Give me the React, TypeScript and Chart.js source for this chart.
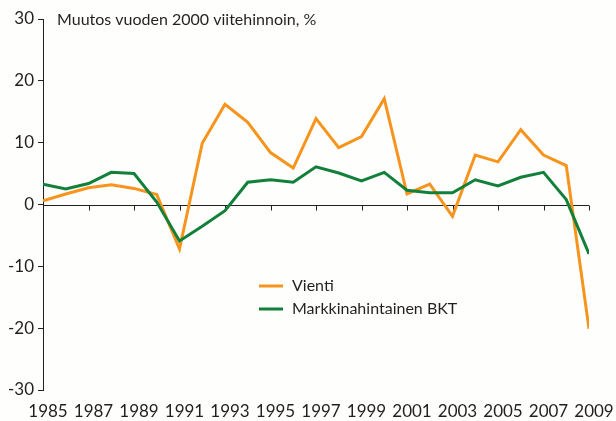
import React, { useEffect, useRef } from "react";
import { Chart, registerables } from "chart.js";

Chart.register(...registerables);

const years = [1985, 1986, 1987, 1988, 1989, 1990, 1991, 1992, 1993, 1994, 1995, 1996, 1997, 1998, 1999, 2000, 2001, 2002, 2003, 2004, 2005, 2006, 2007, 2008, 2009];
const vienti = [0.6, 1.7, 2.7, 3.2, 2.6, 1.6, -7.2, 9.9, 16.2, 13.3, 8.4, 5.9, 13.9, 9.2, 11.0, 17.1, 1.7, 3.3, -1.9, 8.0, 6.9, 12.1, 8.0, 6.3, -20.1];
const bkt = [3.3, 2.5, 3.4, 5.2, 5.0, 0.4, -5.9, -3.5, -1.0, 3.6, 4.0, 3.6, 6.1, 5.1, 3.8, 5.2, 2.3, 1.9, 1.9, 4.0, 3.0, 4.4, 5.2, 0.8, -8.0];
const seriesNames = ["Vienti", "Markkinahintainen BKT"];
const titleText = "Muutos vuoden 2000 viitehinnoin, %";

const ORANGE = "#f7941d";
const GREEN = "#12803a";
const INK = "#231f20";
const FONT = "Lato";

const overlay = {
  id: "overlay",
  beforeDraw(chart: any) {
    const { ctx } = chart;
    ctx.save();
    ctx.fillStyle = "#fefefc";
    ctx.fillRect(0, 0, chart.width, chart.height);
    ctx.restore();
  },
  beforeDatasetsDraw(chart: any) {
    const { ctx, chartArea, scales } = chart;
    const y0 = Math.round(scales.y.getPixelForValue(0)) + 0.5;
    ctx.save();
    ctx.strokeStyle = INK;
    ctx.lineWidth = 1;
    ctx.beginPath();
    ctx.moveTo(chartArea.left, y0);
    ctx.lineTo(chartArea.right, y0);
    for (const t of scales.x.ticks) {
      const x = Math.round(scales.x.getPixelForValue(t.value)) + 0.5;
      ctx.moveTo(x, y0);
      ctx.lineTo(x, y0 + 5);
    }
    ctx.stroke();
    ctx.restore();
  },
  afterDraw(chart: any) {
    const { ctx } = chart;
    ctx.save();
    ctx.fillStyle = INK;
    ctx.font = `16px ${FONT}`;
    ctx.textBaseline = "middle";
    ctx.textAlign = "left";
    ctx.fillText(titleText, 57, 20);
    const items = [
      { name: seriesNames[0], color: ORANGE, y: 286 },
      { name: seriesNames[1], color: GREEN, y: 309 },
    ];
    for (const it of items) {
      ctx.strokeStyle = it.color;
      ctx.lineWidth = 3;
      ctx.beginPath();
      ctx.moveTo(259, it.y);
      ctx.lineTo(283, it.y);
      ctx.stroke();
      ctx.fillStyle = INK;
      ctx.fillText(it.name, 292, it.y);
    }
    ctx.restore();
  },
};

export default function App() {
  const ref = useRef<HTMLCanvasElement>(null);
  useEffect(() => {
    document.body.style.margin = "0";
    const chart = new Chart(ref.current!, {
      type: "line",
      data: {
        datasets: [
          {
            label: seriesNames[0],
            data: years.map((x, i) => ({ x, y: vienti[i] })),
            borderColor: ORANGE,
            borderWidth: 3,
            pointRadius: 0,
            tension: 0,
            order: 1,
          },
          {
            label: seriesNames[1],
            data: years.map((x, i) => ({ x, y: bkt[i] })),
            borderColor: GREEN,
            borderWidth: 3,
            pointRadius: 0,
            tension: 0,
            order: 0,
          },
        ],
      },
      options: {
        responsive: false,
        animation: false,
        layout: { padding: { left: 0, right: 27, top: 19, bottom: 0 } },
        plugins: { legend: { display: false }, tooltip: { enabled: false } },
        scales: {
          x: {
            type: "linear",
            min: 1985,
            max: 2009,
            afterFit: (s: any) => {
              s.height = 31;
              s.paddingLeft = 0;
              s.paddingRight = 0;
            },
            grid: { display: false },
            border: { display: false },
            ticks: {
              stepSize: 2,
              autoSkip: false,
              maxRotation: 0,
              padding: 3,
              labelOffset: 5,
              color: INK,
              font: { family: FONT, size: 17 },
              callback: (v: any) => String(v),
            },
          },
          y: {
            min: -30,
            max: 30,
            afterFit: (s: any) => {
              s.width = 43;
              s.paddingTop = 0;
              s.paddingBottom = 0;
            },
            grid: { drawOnChartArea: false, drawTicks: true, tickLength: 5, color: INK },
            border: { display: true, color: INK, width: 1 },
            ticks: {
              stepSize: 10,
              padding: 4,
              color: INK,
              font: { family: FONT, size: 17 },
              callback: (v: any) => String(v),
            },
          },
        },
      },
      plugins: [overlay],
    });
    return () => chart.destroy();
  }, []);
  return (
    <div style={{ position: "fixed", left: 0, top: 0, width: 616, height: 421 }}>
      <canvas ref={ref} width={616} height={421} />
    </div>
  );
}
